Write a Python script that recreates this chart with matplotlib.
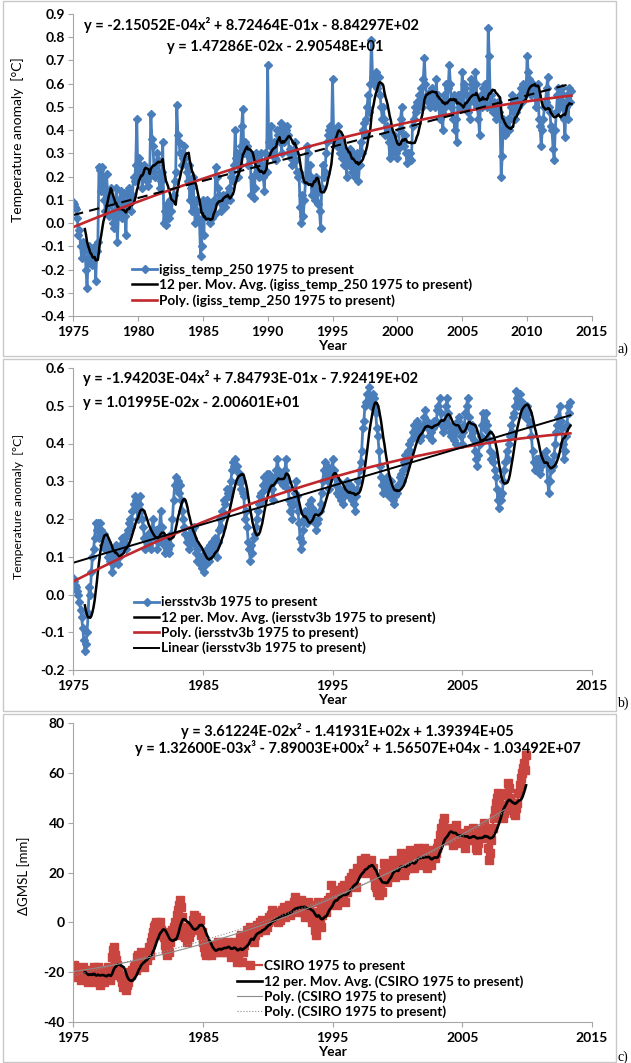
import numpy as np
import pandas as pd
import matplotlib
matplotlib.use('Agg')
import matplotlib.pyplot as plt
from matplotlib.patches import Rectangle

# monthly GISS 250 km anomalies from Jan 1975 [degC]
giss_temp = [
    0.09, 0.08, 0.07, 0.06, 0.02, -0.05, -0.03, -0.10, -0.15, -0.08, -0.12, -0.10,   # 1975
    -0.20, -0.28, -0.15, -0.10, -0.17, -0.12, -0.18, -0.15, -0.10, -0.25, -0.12, -0.08,
    0.24, 0.23, 0.14, 0.24, 0.20, 0.10, 0.05, 0.21, 0.13, 0.03, 0.08, 0.15,
    0.10, 0.00, -0.02, 0.05, 0.15, -0.08, 0.03, 0.10, 0.14, 0.02, 0.05, 0.13,
    0.03, -0.05, 0.13, 0.08, 0.15, 0.10, 0.05, 0.12, 0.20, 0.18, 0.25, 0.45,
    0.20, 0.28, 0.25, 0.22, 0.15, 0.20, 0.25, 0.22, 0.18, 0.16, 0.20, 0.23,          # 1980
    0.47, 0.36, 0.33, 0.22, 0.20, 0.25, 0.30, 0.27, 0.15, 0.18, 0.22, 0.35,
    0.00, 0.05, -0.01, 0.08, 0.04, 0.02, 0.10, 0.05, 0.10, 0.12, 0.18, 0.22,
    0.51, 0.38, 0.35, 0.30, 0.30, 0.25, 0.28, 0.33, 0.28, 0.22, 0.18, 0.25,
    0.10, 0.15, 0.05, 0.20, 0.08, 0.00, 0.10, 0.05, 0.02, 0.00, -0.14, -0.10,
    0.10, -0.05, 0.08, 0.05, 0.10, 0.02, 0.08, 0.00, 0.05, 0.02, 0.10, 0.04,         # 1985
    0.24, 0.20, 0.15, 0.12, 0.10, 0.05, 0.08, 0.12, 0.10, 0.07, 0.10, 0.13,
    0.15, 0.10, 0.20, 0.22, 0.18, 0.25, 0.40, 0.28, 0.30, 0.20, 0.25, 0.33,
    0.42, 0.49, 0.30, 0.35, 0.30, 0.33, 0.25, 0.30, 0.28, 0.12, 0.20, 0.11,
    0.15, 0.30, 0.22, 0.27, 0.20, 0.25, 0.30, 0.25, 0.20, 0.14, 0.30, 0.22,
    0.68, 0.35, 0.33, 0.42, 0.30, 0.33, 0.35, 0.28, 0.27, 0.40, 0.38, 0.35,          # 1990
    0.43, 0.30, 0.42, 0.35, 0.37, 0.40, 0.42, 0.38, 0.30, 0.32, 0.28, 0.25,
    0.30, 0.35, 0.27, 0.22, 0.20, 0.22, 0.07, 0.00, 0.12, 0.03, 0.10, 0.18,
    0.33, 0.30, 0.20, 0.25, 0.20, 0.12, 0.18, 0.15, 0.10, 0.20, 0.13, 0.08,
    0.05, -0.02, 0.15, 0.25, 0.20, 0.22, 0.30, 0.35, 0.38, 0.40, 0.42, 0.36,
    0.62, 0.40, 0.35, 0.38, 0.33, 0.42, 0.38, 0.30, 0.35, 0.28, 0.32, 0.25,          # 1995
    0.30, 0.20, 0.28, 0.25, 0.32, 0.26, 0.22, 0.30, 0.28, 0.20, 0.24, 0.30,
    0.18, 0.25, 0.35, 0.30, 0.40, 0.43, 0.38, 0.45, 0.50, 0.55, 0.48, 0.60,
    0.79, 0.63, 0.60, 0.62, 0.65, 0.58, 0.60, 0.63, 0.55, 0.50, 0.45, 0.50,
    0.45, 0.38, 0.42, 0.40, 0.35, 0.28, 0.38, 0.30, 0.32, 0.38, 0.33, 0.30,
    0.28, 0.32, 0.40, 0.45, 0.50, 0.35, 0.33, 0.38, 0.30, 0.26, 0.30, 0.28,          # 2000
    0.30, 0.27, 0.42, 0.45, 0.50, 0.48, 0.52, 0.50, 0.55, 0.52, 0.58, 0.50,
    0.62, 0.71, 0.60, 0.55, 0.52, 0.56, 0.50, 0.55, 0.58, 0.52, 0.55, 0.50,
    0.62, 0.52, 0.55, 0.45, 0.50, 0.48, 0.40, 0.55, 0.50, 0.60, 0.52, 0.58,
    0.68, 0.60, 0.50, 0.45, 0.55, 0.40, 0.45, 0.35, 0.55, 0.55, 0.50, 0.52,
    0.65, 0.50, 0.60, 0.58, 0.55, 0.48, 0.52, 0.45, 0.62, 0.60, 0.55, 0.52,          # 2005
    0.65, 0.60, 0.50, 0.45, 0.38, 0.55, 0.50, 0.58, 0.52, 0.60, 0.55, 0.50,
    0.84, 0.72, 0.50, 0.55, 0.48, 0.52, 0.50, 0.45, 0.48, 0.52, 0.48, 0.45,
    0.20, 0.29, 0.45, 0.40, 0.38, 0.42, 0.45, 0.40, 0.45, 0.50, 0.55, 0.48,
    0.52, 0.45, 0.48, 0.52, 0.50, 0.55, 0.58, 0.52, 0.60, 0.55, 0.58, 0.56,
    0.72, 0.65, 0.62, 0.60, 0.55, 0.60, 0.57, 0.58, 0.50, 0.55, 0.60, 0.45,          # 2010
    0.42, 0.33, 0.40, 0.45, 0.50, 0.52, 0.58, 0.63, 0.50, 0.48, 0.42, 0.40,
    0.32, 0.27, 0.40, 0.48, 0.55, 0.58, 0.50, 0.56, 0.58, 0.52, 0.45, 0.37,
    0.50, 0.55, 0.45, 0.58, 0.52, 0.57,
]

# monthly ERSST v3b anomalies from Jan 1975 [degC]
ersst_temp = [
    0.045, 0.035, 0.025, 0.02, 0.01, 0.00, -0.02, -0.04, -0.06, -0.09, -0.12, -0.15,  # 1975
    -0.13, -0.10, -0.05, 0.02, 0.00, 0.06, 0.10, 0.12, 0.15, 0.19, 0.17, 0.19,
    0.15, 0.19, 0.17, 0.15, 0.13, 0.16, 0.12, 0.14, 0.10, 0.12, 0.09, 0.11,
    0.06, 0.08, 0.12, 0.10, 0.13, 0.11, 0.08, 0.10, 0.13, 0.15, 0.12, 0.14,
    0.15, 0.12, 0.16, 0.17, 0.19, 0.20, 0.18, 0.22, 0.24, 0.26, 0.25, 0.23,
    0.20, 0.24, 0.26, 0.22, 0.20, 0.18, 0.15, 0.12, 0.14, 0.16, 0.13, 0.15,          # 1980
    0.12, 0.17, 0.20, 0.16, 0.15, 0.17, 0.12, 0.14, 0.18, 0.22, 0.18, 0.15,
    0.13, 0.11, 0.15, 0.14, 0.12, 0.11, 0.13, 0.16, 0.20, 0.25, 0.29, 0.31,
    0.28, 0.30, 0.27, 0.29, 0.25, 0.22, 0.20, 0.18, 0.16, 0.14, 0.15, 0.12,
    0.16, 0.14, 0.17, 0.15, 0.18, 0.13, 0.11, 0.09, 0.12, 0.08, 0.10, 0.07,
    0.09, 0.06, 0.11, 0.08, 0.12, 0.10, 0.09, 0.13, 0.11, 0.14, 0.12, 0.15,          # 1985
    0.13, 0.10, 0.14, 0.17, 0.20, 0.18, 0.22, 0.21, 0.25, 0.24, 0.28, 0.27,
    0.26, 0.28, 0.30, 0.33, 0.35, 0.34, 0.36, 0.33, 0.34, 0.30, 0.32, 0.28,
    0.30, 0.27, 0.26, 0.20, 0.22, 0.18, 0.14, 0.12, 0.09, 0.13, 0.11, 0.15,
    0.16, 0.18, 0.20, 0.22, 0.24, 0.26, 0.27, 0.25, 0.29, 0.31, 0.28, 0.32,
    0.30, 0.32, 0.29, 0.30, 0.28, 0.25, 0.30, 0.31, 0.33, 0.36, 0.33, 0.30,          # 1990
    0.30, 0.32, 0.29, 0.31, 0.33, 0.36, 0.30, 0.28, 0.25, 0.22, 0.24, 0.20,
    0.24, 0.27, 0.30, 0.26, 0.22, 0.19, 0.15, 0.12, 0.14, 0.17, 0.20, 0.22,
    0.19, 0.21, 0.24, 0.22, 0.25, 0.23, 0.20, 0.22, 0.19, 0.17, 0.19, 0.20,
    0.22, 0.24, 0.27, 0.30, 0.33, 0.35, 0.32, 0.34, 0.30, 0.28, 0.31, 0.33,
    0.36, 0.33, 0.31, 0.29, 0.27, 0.30, 0.26, 0.28, 0.25, 0.27, 0.24, 0.26,          # 1995
    0.28, 0.30, 0.27, 0.26, 0.29, 0.27, 0.25, 0.28, 0.24, 0.22, 0.26, 0.28,
    0.30, 0.33, 0.35, 0.38, 0.44, 0.46, 0.50, 0.51, 0.53, 0.51, 0.55, 0.52,
    0.50, 0.53, 0.52, 0.50, 0.48, 0.44, 0.42, 0.38, 0.34, 0.31, 0.29, 0.27,
    0.30, 0.28, 0.31, 0.29, 0.26, 0.28, 0.30, 0.27, 0.25, 0.24, 0.26, 0.28,
    0.27, 0.29, 0.31, 0.32, 0.30, 0.33, 0.35, 0.37, 0.34, 0.36, 0.38, 0.40,          # 2000
    0.38, 0.41, 0.43, 0.45, 0.42, 0.44, 0.46, 0.45, 0.43, 0.41, 0.42, 0.44,
    0.45, 0.47, 0.49, 0.46, 0.44, 0.42, 0.45, 0.43, 0.41, 0.44, 0.46, 0.45,
    0.46, 0.49, 0.50, 0.52, 0.48, 0.45, 0.43, 0.44, 0.46, 0.50, 0.52, 0.48,
    0.45, 0.43, 0.42, 0.44, 0.41, 0.43, 0.40, 0.44, 0.46, 0.47, 0.44, 0.42,
    0.40, 0.43, 0.45, 0.48, 0.50, 0.52, 0.47, 0.44, 0.42, 0.45, 0.43, 0.41,          # 2005
    0.38, 0.36, 0.34, 0.37, 0.40, 0.42, 0.45, 0.48, 0.44, 0.46, 0.48, 0.45,
    0.43, 0.41, 0.38, 0.36, 0.35, 0.37, 0.33, 0.31, 0.28, 0.25, 0.23, 0.26,
    0.25, 0.27, 0.30, 0.33, 0.35, 0.38, 0.36, 0.40, 0.42, 0.45, 0.43, 0.47,
    0.48, 0.50, 0.54, 0.52, 0.50, 0.53, 0.50, 0.51, 0.48, 0.50, 0.47, 0.49,
    0.50, 0.48, 0.46, 0.45, 0.42, 0.38, 0.35, 0.33, 0.36, 0.34, 0.36, 0.33,          # 2010
    0.32, 0.34, 0.36, 0.37, 0.35, 0.38, 0.36, 0.30, 0.27, 0.30, 0.33, 0.35,
    0.34, 0.37, 0.40, 0.43, 0.45, 0.47, 0.50, 0.46, 0.44, 0.40, 0.36, 0.38,
    0.42, 0.45, 0.50, 0.48, 0.51,
]

# monthly CSIRO global mean sea level from Jan 1975 [mm]
csiro_gmsl = [
    -19, -17, -18, -21, -22, -20, -19, -23, -21, -18, -20, -22,   # 1975
    -20, -23, -24, -21, -19, -22, -20, -18, -22, -24, -21, -18,
    -22, -25, -23, -20, -19, -24, -22, -20, -18, -21, -23, -21,
    -14, -11, -10, -13, -15, -17, -19, -21, -22, -24, -26, -24,
    -26, -27, -25, -24, -22, -20, -21, -19, -18, -17, -19, -14,
    -13, -15, -17, -12, -16, -14, -18, -13, -15, -12, -10, -13,   # 1980
    -8, -6, -4, -2, -1, 0, -1, -2, 0, -3, -5, -4,
    -6, -9, -11, -13, -10, -12, -8, -5, -3, -2, 0, -5,
    3, 5, 7, 9, 6, 2, -2, -5, -6, -8, -5, -6,
    -4, -2, -1, 1, 3, 0, 2, -3, 0, 1, -5, -4,
    -8, -10, -12, -13, -11, -9, -12, -10, -13, -11, -12, -11,     # 1985
    -12, -9, -8, -11, -10, -12, -9, -8, -10, -12, -11, -8,
    -10, -12, -14, -11, -9, -8, -10, -13, -16, -12, -6, -5,
    -16, -12, -9, -7, -5, -3, -4, -6, -2, -5, -7, -8,
    -5, -3, -1, -4, -2, 0, -3, 1, 0, -2, -3, -2,
    0, 2, 1, 3, 5, 2, 1, 3, 4, 2, 0, 1,                           # 1990
    3, 5, 4, 6, 2, 4, 6, 5, 7, 3, 4, 5,
    8, 10, 6, 5, 7, 4, 6, 9, 5, 4, 6, 2,
    5, 8, 7, 4, 2, 0, 3, 1, -3, -5, 4, 8,
    0, -2, 3, 5, 7, 6, 4, 8, 9, 7, 10, 15,
    8, 10, 12, 9, 7, 11, 13, 10, 12, 14, 11, 15,                  # 1995
    8, 12, 14, 17, 15, 18, 16, 20, 17, 19, 14, 22,
    20, 22, 25, 24, 21, 23, 26, 22, 20, 24, 21, 22,
    25, 22, 18, 15, 14, 12, 13, 11, 14, 16, 12, 20,
    24, 22, 16, 18, 23, 20, 19, 22, 25, 21, 18, 24,
    20, 22, 25, 28, 24, 22, 19, 21, 23, 26, 22, 24,               # 2000
    29, 27, 25, 22, 24, 26, 28, 30, 27, 25, 23, 26,
    28, 30, 25, 22, 24, 27, 25, 23, 26, 29, 27, 26,
    28, 30, 32, 35, 38, 36, 40, 42, 38, 35, 33, 33,
    38, 36, 33, 31, 35, 37, 39, 36, 34, 32, 35, 34,
    36, 34, 32, 30, 35, 37, 33, 35, 36, 34, 38, 34,               # 2005
    33, 30, 29, 32, 35, 37, 34, 36, 40, 38, 35, 35,
    30, 25, 28, 33, 38, 42, 45, 48, 50, 52, 50, 51,
    47, 45, 42, 44, 46, 52, 56, 54, 50, 48, 45, 47,
    44, 43, 46, 48, 52, 55, 58, 60, 62, 64, 61, 67,
]

# trendline coefficients (highest power first), as printed on the charts
giss_poly = [-2.15052E-04, 8.72464E-01, -8.84297E+02]
giss_lin = [1.47286E-02, -2.90548E+01]
ersst_poly = [-1.94203E-04, 7.84793E-01, -7.92419E+02]
ersst_lin = [1.01995E-02, -2.00601E+01]
csiro_poly2 = [3.61224E-02, -1.41931E+02, 1.39394E+05]
csiro_poly3 = [1.32600E-03, -7.89003E+00, 1.56507E+04, -1.03492E+07]
csiro_fit_end = 2008.3

temp_a_ticks = [-0.4, -0.3, -0.2, -0.1, 0.0, 0.1, 0.2, 0.3, 0.4, 0.5, 0.6, 0.7, 0.8, 0.9]
temp_b_ticks = [-0.2, -0.1, 0.0, 0.1, 0.2, 0.3, 0.4, 0.5, 0.6]
gmsl_ticks = [-40, -20, 0, 20, 40, 60, 80]

BLUE = '#4a7ebb'
RED = '#c0282d'
SQ_RED = '#c8463f'
AXIS_GREY = '#a6a6a6'
TXT = 10.5
LEG = 9.8

plt.rcParams['font.family'] = ['Lato', 'DejaVu Sans']
plt.rcParams['axes.unicode_minus'] = False

W, H = 631, 1063
fig = plt.figure(figsize=(W / 100, H / 100), dpi=100)


def px_axes(top, bottom, left=73, right=592):
    return fig.add_axes([left / W, 1 - bottom / H, (right - left) / W, (bottom - top) / H])


def eq_text(coefs):
    sup = {3: '\u00b3', 2: '\u00b2', 1: ''}
    n = len(coefs) - 1
    s = 'y = '
    for i, c in enumerate(coefs):
        p = n - i
        term = f'{abs(c):.5E}' + ('x' + sup[p] if p > 0 else '')
        if i == 0:
            s += ('-' if c < 0 else '') + term
        else:
            s += (' - ' if c < 0 else ' + ') + term
    return s


def style(ax, xticks, yticks, ylabels, ylabel, ylabel_size, ylabel_y):
    ax.set_xlim(1975, 2015)
    ax.set_ylim(yticks[0], yticks[-1])
    ax.set_xticks(xticks, [str(x) for x in xticks], fontweight='bold')
    ax.set_yticks(yticks, ylabels, fontweight='bold')
    for s in ['top', 'right']:
        ax.spines[s].set_visible(False)
    for s in ['left', 'bottom']:
        ax.spines[s].set_color(AXIS_GREY)
        ax.spines[s].set_linewidth(0.8)
    ax.tick_params(direction='out', length=3.5, width=0.8, color=AXIS_GREY,
                   labelsize=10, pad=2.5)
    ax.tick_params(axis='x', pad=3.5)
    ax.set_xlabel('Year', fontsize=10, fontweight='bold', labelpad=1.5)
    ax.set_ylabel(ylabel, fontsize=ylabel_size)
    ax.yaxis.set_label_coords(-0.094, ylabel_y)


def panel_box(top, bottom, left=3, right=616):
    fig.add_artist(Rectangle((left / W, 1 - bottom / H), (right - left) / W, (bottom - top) / H,
                             transform=fig.transFigure, fill=False, ec='#c8c8c8', lw=1))


leg_kw = dict(loc='upper left', frameon=False, handlelength=1.85,
              handletextpad=0.15, labelspacing=0.2, borderpad=0, borderaxespad=0,
              prop={'weight': 'bold', 'size': LEG})

# ---- a) GISS surface temperature
t_a = 1975 + np.arange(len(giss_temp)) / 12
ma_a = pd.Series(giss_temp).rolling(12).mean()
ax1 = px_axes(14, 316)
ax1.plot(t_a, giss_temp, color=BLUE, lw=2.0, marker='D', ms=3.6,
         label='igiss_temp_250 1975 to present')
ax1.plot(t_a, ma_a, color='black', lw=1.8,
         label='12 per. Mov. Avg. (igiss_temp_250 1975 to present)')
ax1.plot(t_a, np.polyval(giss_poly, t_a), color=RED, lw=1.9,
         label='Poly. (igiss_temp_250 1975 to present)')
ax1.plot(t_a, np.polyval(giss_lin, t_a), color='black', lw=1.5, ls=(0, (5, 3)))
style(ax1, list(range(1975, 2016, 5)), temp_a_ticks,
      [f'{v:.1f}' for v in temp_a_ticks], 'Temperature anomaly  [\u00b0C]', 10, 0.585)
ax1.legend(bbox_to_anchor=(0.114, 0.174), **leg_kw)
ax1.text(0.022, 0.963, eq_text(giss_poly), transform=ax1.transAxes,
         fontsize=TXT, fontweight='bold', va='center')
ax1.text(0.181, 0.891, eq_text(giss_lin), transform=ax1.transAxes,
         fontsize=TXT, fontweight='bold', va='center')

# ---- b) ERSST sea surface temperature
t_b = 1975 + np.arange(len(ersst_temp)) / 12
ma_b = pd.Series(ersst_temp).rolling(12).mean()
ax2 = px_axes(368, 670)
ax2.plot(t_b, ersst_temp, color=BLUE, lw=2.0, marker='D', ms=3.6,
         label='iersstv3b 1975 to present')
ax2.plot(t_b, ma_b, color='black', lw=1.8,
         label='12 per. Mov. Avg. (iersstv3b 1975 to present)')
ax2.plot(t_b, np.polyval(ersst_poly, t_b), color=RED, lw=1.9,
         label='Poly. (iersstv3b 1975 to present)')
ax2.plot(t_b, np.polyval(ersst_lin, t_b), color='black', lw=1.4,
         label='Linear (iersstv3b 1975 to present)')
style(ax2, list(range(1975, 2016, 10)), temp_b_ticks,
      [f'{v:.1f}' for v in temp_b_ticks], 'Temperature anomaly  [\u00b0C]', 8.8, 0.54)
ax2.legend(bbox_to_anchor=(0.118, 0.244), **leg_kw)
ax2.text(0.019, 0.967, eq_text(ersst_poly), transform=ax2.transAxes,
         fontsize=TXT, fontweight='bold', va='center')
ax2.text(0.019, 0.884, eq_text(ersst_lin), transform=ax2.transAxes,
         fontsize=TXT, fontweight='bold', va='center')

# ---- c) CSIRO sea level
t_c = 1975 + np.arange(len(csiro_gmsl)) / 12
gmsl = np.array(csiro_gmsl, dtype=float)
ma_c = pd.Series(gmsl).rolling(12).mean()
t_fit = t_c[t_c <= csiro_fit_end]
# printed cubic coefficients are too rounded to evaluate, so refit on centred years
cub = np.polyfit(t_fit - 1990, gmsl[t_c <= csiro_fit_end], 3)
ax3 = px_axes(723, 1022)
ax3.plot(t_c, gmsl, color=SQ_RED, lw=1.6, marker='s', ms=5.4,
         label='CSIRO 1975 to present')
ax3.plot(t_c, ma_c, color='black', lw=1.9,
         label='12 per. Mov. Avg. (CSIRO 1975 to present)')
ax3.plot(t_fit, np.polyval(csiro_poly2, t_fit), color='#8c8c8c', lw=0.8,
         label='Poly. (CSIRO 1975 to present)')
ax3.plot(t_fit, np.polyval(cub, t_fit - 1990), color='#8c8c8c', lw=0.8, ls=':',
         label='Poly. (CSIRO 1975 to present)')
style(ax3, list(range(1975, 2016, 10)), gmsl_ticks,
      [str(v) for v in gmsl_ticks], '\u0394GMSL [mm]', 9.5, 0.49)
ax3.yaxis.set_label_coords(-0.083, 0.49)
ax3.legend(bbox_to_anchor=(0.316, 0.207), **leg_kw)
ax3.text(0.528, 0.973, eq_text(csiro_poly2), transform=ax3.transAxes,
         fontsize=TXT, fontweight='bold', va='center', ha='center')
ax3.text(0.549, 0.916, eq_text(csiro_poly3), transform=ax3.transAxes,
         fontsize=TXT, fontweight='bold', va='center', ha='center')

# frames and panel letters
panel_box(1, 356)
panel_box(359, 711)
panel_box(714, 1062)
for lab, y in [('a)', 349), ('b)', 703), ('c)', 1057)]:
    fig.text(617 / W, 1 - y / H, lab, family='Liberation Serif', fontsize=10,
             va='center', ha='left')

fig.savefig('out.png', dpi=100)
